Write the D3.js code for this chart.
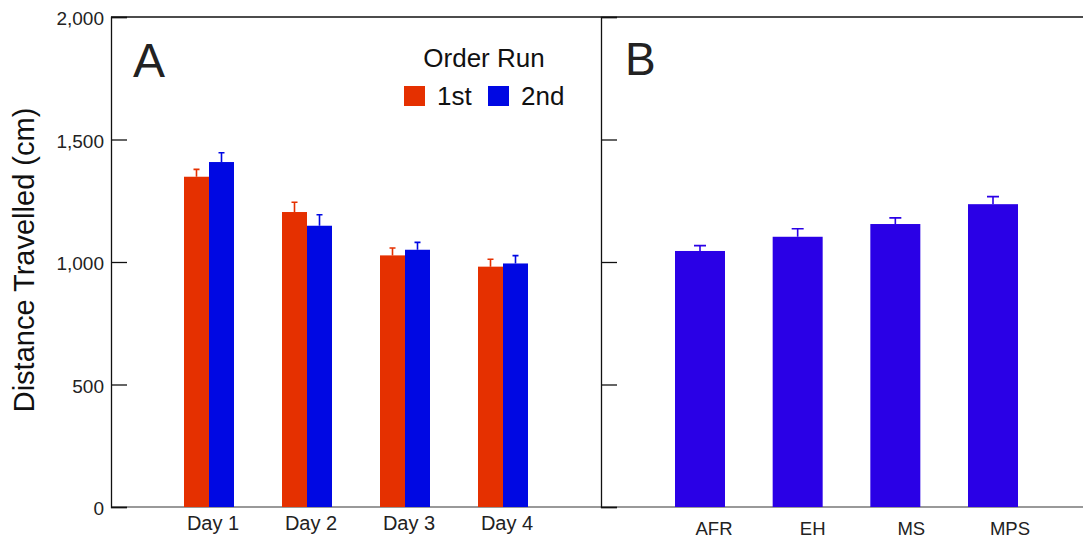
<!DOCTYPE html>
<html>
<head>
<meta charset="utf-8">
<script src="https://cdn.jsdelivr.net/npm/d3@7"></script>
<style>
  body { margin: 0; background: #fff; }
  svg { display: block; font-family: Arial, "Liberation Sans", sans-serif; }
</style>
</head>
<body>
<svg width="1083" height="538"></svg>
<script>
// panel A : distance by day and order run
const days = ['Day 1', 'Day 2', 'Day 3', 'Day 4'];
const runs = ['1st', '2nd'];
const firstRun = [1348, 1204, 1027, 981];
const firstErr = [30, 40, 30, 30];
const secondRun = [1408, 1148, 1050, 994];
const secondErr = [38, 45, 30, 32];

// panel B : distance by condition
const conditions = ['AFR', 'EH', 'MS', 'MPS'];
const condValues = [1045, 1103, 1155, 1236];
const condErr = [22, 33, 25, 31];

const yTicks = [0, 500, 1000, 1500, 2000];

const svg = d3.select('svg');
const width = +svg.attr('width');

const plotLeft = 111, plotMid = 601, plotTop = 17, plotBottom = 507;
const red = '#e53000', blue = '#0008e3', purple = '#2a00e6';

const y = d3.scaleLinear().domain([0, 2000]).range([plotBottom, plotTop]);

// x for panel A : day i sits at i+1 of 5 steps
const xA = d3.scaleLinear().domain([0, 5]).range([plotLeft, plotMid]);
const xB = d3.scalePoint().domain(conditions).range([700, 993]);
const xBLabel = d3.scalePoint().domain(conditions).range([714, 1010]);

const barW = 25;

// frame lines
svg.append('line')
  .attr('x1', plotLeft).attr('x2', width).attr('y1', plotTop).attr('y2', plotTop)
  .attr('stroke', '#111').attr('stroke-width', 1.3);
svg.append('line')
  .attr('x1', plotLeft).attr('x2', width).attr('y1', plotBottom).attr('y2', plotBottom)
  .attr('stroke', '#777').attr('stroke-width', 1.3);

// left axis with inward ticks
const yAxis = d3.axisRight(y).tickValues(yTicks).tickSize(16).tickFormat('');
const axG = svg.append('g').attr('transform', `translate(${plotLeft},0)`).call(yAxis);
axG.select('.domain').attr('stroke', '#111').attr('stroke-width', 1.3);
axG.selectAll('.tick line').attr('stroke', '#111').attr('stroke-width', 1.3);

svg.append('g').selectAll('text').data(yTicks).enter().append('text')
  .attr('x', plotLeft - 7)
  .attr('y', d => y(d) + 8)
  .attr('text-anchor', 'end')
  .attr('font-size', 19)
  .attr('fill', '#222')
  .text(d => d3.format(',')(d));

// divider with ticks
const divG = svg.append('g').attr('transform', `translate(${plotMid},0)`).call(yAxis);
divG.select('.domain').attr('stroke', '#111').attr('stroke-width', 1.3);
divG.selectAll('.tick line').attr('stroke', '#111').attr('stroke-width', 1.3);

svg.append('text')
  .attr('transform', 'translate(34,260) rotate(-90)')
  .attr('text-anchor', 'middle')
  .attr('font-size', 29)
  .attr('fill', '#111')
  .text('Distance Travelled (cm)');

// bars panel A
const series = [
  { name: '1st', vals: firstRun, err: firstErr, color: red, off: -barW },
  { name: '2nd', vals: secondRun, err: secondErr, color: blue, off: 0 }
];

series.forEach(s => {
  const g = svg.append('g');
  g.selectAll('rect').data(days).enter().append('rect')
    .attr('x', (d, i) => xA(i + 1) + s.off)
    .attr('y', (d, i) => y(s.vals[i]))
    .attr('width', barW)
    .attr('height', (d, i) => plotBottom - y(s.vals[i]))
    .attr('fill', s.color);
  g.selectAll('path').data(days).enter().append('path')
    .attr('d', (d, i) => {
      const cx = xA(i + 1) + s.off + barW / 2;
      const y0 = y(s.vals[i]), y1 = y(s.vals[i] + s.err[i]);
      return `M${cx},${y0}V${y1}M${cx - 3},${y1}H${cx + 3}`;
    })
    .attr('stroke', s.color).attr('stroke-width', 1.6).attr('fill', 'none');
});

svg.append('g').selectAll('text').data(days).enter().append('text')
  .attr('x', (d, i) => xA(i + 1) + 4)
  .attr('y', 530)
  .attr('text-anchor', 'middle')
  .attr('font-size', 20)
  .attr('fill', '#222')
  .text(d => d);

// bars panel B
const gB = svg.append('g');
gB.selectAll('rect').data(conditions).enter().append('rect')
  .attr('x', d => xB(d) - barW)
  .attr('y', (d, i) => y(condValues[i]))
  .attr('width', barW * 2)
  .attr('height', (d, i) => plotBottom - y(condValues[i]))
  .attr('fill', purple);
gB.selectAll('path').data(conditions).enter().append('path')
  .attr('d', (d, i) => {
    const cx = xB(d);
    const y0 = y(condValues[i]), y1 = y(condValues[i] + condErr[i]);
    return `M${cx},${y0}V${y1}M${cx - 6},${y1}H${cx + 6}`;
  })
  .attr('stroke', purple).attr('stroke-width', 1.6).attr('fill', 'none');

svg.append('g').selectAll('text').data(conditions).enter().append('text')
  .attr('x', d => xBLabel(d))
  .attr('y', 535)
  .attr('text-anchor', 'middle')
  .attr('font-size', 18.5)
  .attr('fill', '#222')
  .text(d => d);

// panel letters
svg.append('text').attr('x', 133).attr('y', 77)
  .attr('font-size', 48).attr('fill', '#222').text('A');
svg.append('text').attr('x', 625).attr('y', 75)
  .attr('font-size', 46).attr('fill', '#222').text('B');

// legend
svg.append('text').attr('x', 484).attr('y', 67)
  .attr('text-anchor', 'middle').attr('font-size', 26).attr('fill', '#111')
  .text('Order Run');
const legX = [404, 488];
const leg = svg.append('g').selectAll('g').data(runs).enter().append('g')
  .attr('transform', (d, i) => `translate(${legX[i]},86)`);
leg.append('rect').attr('width', 21).attr('height', 20)
  .attr('fill', (d, i) => i === 0 ? red : blue);
leg.append('text').attr('x', 33).attr('y', 19)
  .attr('font-size', 26).attr('fill', '#111').text(d => d);
</script>
</body>
</html>
